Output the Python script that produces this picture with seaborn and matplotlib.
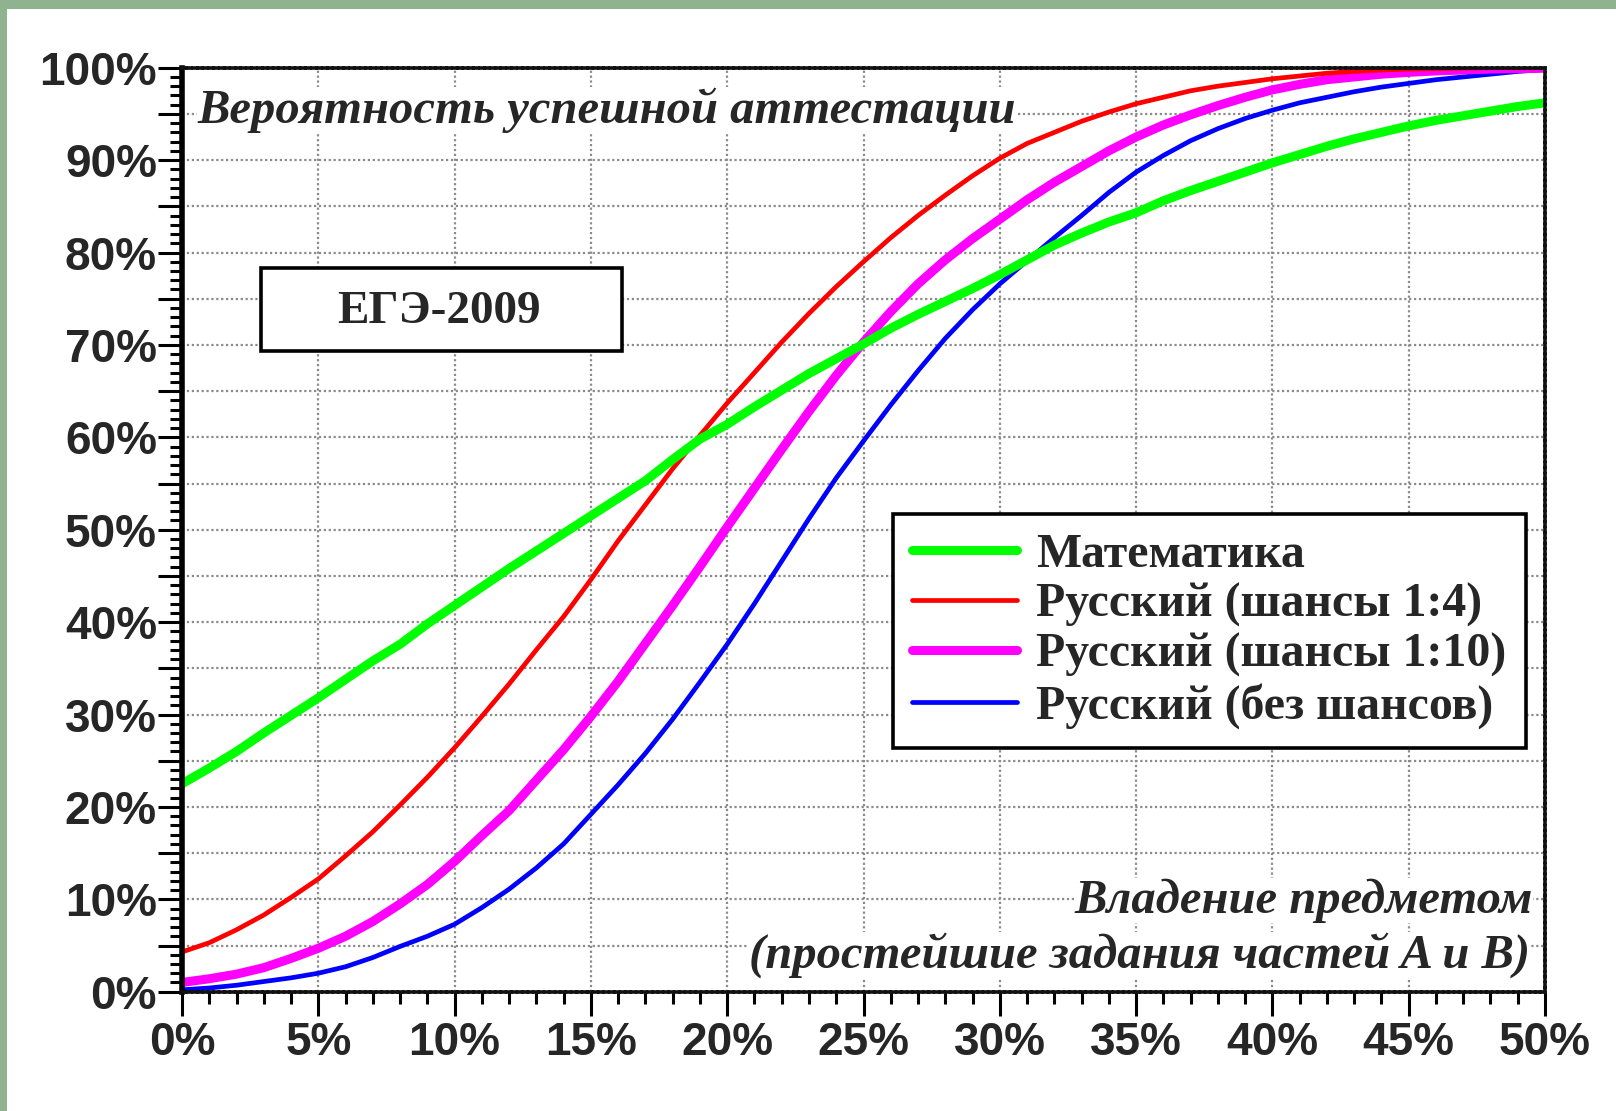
import matplotlib
matplotlib.use("Agg")
import matplotlib.pyplot as plt
import seaborn as sns
import numpy as np
import pandas as pd
from matplotlib.patches import Rectangle
from matplotlib.ticker import MultipleLocator, FuncFormatter
from matplotlib.lines import Line2D

# ---------------- data (percent) ----------------
mastery = list(range(0, 51))  # Владение предметом, %

math_vals = [22.5, 24.2, 26.0, 28.0, 29.9, 31.8, 33.8, 35.8, 37.6, 39.8,
             41.8, 43.8, 45.8, 47.7, 49.6, 51.5, 53.4, 55.3, 57.6, 59.8,
             61.4, 63.3, 65.1, 66.9, 68.5, 70.1, 71.8, 73.3, 74.7, 76.1,
             77.6, 79.2, 80.8, 82.1, 83.3, 84.3, 85.6, 86.7, 87.7, 88.7,
             89.7, 90.6, 91.5, 92.3, 93.0, 93.7, 94.3, 94.8, 95.3, 95.8, 96.2]

rus_4_vals = [4.3, 5.3, 6.7, 8.3, 10.2, 12.2, 14.7, 17.3, 20.2, 23.2,
              26.4, 29.8, 33.3, 37.0, 40.6, 44.6, 48.8, 52.7, 56.6, 60.2,
              63.7, 67.0, 70.3, 73.4, 76.3, 79.0, 81.6, 84.0, 86.2, 88.3,
              90.2, 91.8, 93.0, 94.2, 95.2, 96.1, 96.8, 97.5, 98.0, 98.4,
              98.8, 99.1, 99.4, 99.6, 99.75, 99.85, 99.9, 99.95, 100.0, 100.0, 100.0]

rus_10_vals = [1.0, 1.4, 1.9, 2.6, 3.6, 4.7, 6.0, 7.6, 9.5, 11.6,
               14.1, 16.9, 19.6, 22.9, 26.2, 29.8, 33.6, 37.7, 41.8, 46.0,
               50.3, 54.5, 58.7, 62.8, 66.7, 70.3, 73.6, 76.6, 79.2, 81.5,
               83.6, 85.7, 87.6, 89.3, 91.0, 92.5, 93.8, 94.9, 95.9, 96.8,
               97.6, 98.2, 98.7, 99.0, 99.3, 99.5, 99.65, 99.75, 99.85, 99.9, 99.95]

rus_0_vals = [0.2, 0.4, 0.7, 1.1, 1.5, 2.0, 2.7, 3.7, 4.9, 6.0,
              7.3, 9.1, 11.1, 13.4, 16.0, 19.2, 22.4, 25.8, 29.5, 33.5,
              37.6, 42.0, 46.6, 51.2, 55.6, 59.6, 63.5, 67.2, 70.7, 73.8,
              76.6, 79.1, 81.6, 84.0, 86.5, 88.7, 90.5, 92.1, 93.4, 94.5,
              95.4, 96.2, 96.8, 97.4, 97.9, 98.3, 98.7, 99.0, 99.3, 99.6, 99.8]

series_names = ["Математика", "Русский (шансы 1:4)",
                "Русский (шансы 1:10)", "Русский (без шансов)"]
series_vals = [math_vals, rus_4_vals, rus_10_vals, rus_0_vals]
series_colors = ["#00ff00", "#ff0000", "#ff00ff", "#0000ff"]
series_widths = [6.5, 3.4, 6.5, 3.4]

title_text = "Вероятность успешной аттестации"
xlabel_line1 = "Владение предметом"
xlabel_line2 = "(простейшие задания частей A и B)"
box_text = "ЕГЭ-2009"

# ---------------- style ----------------
sns.set_style("white")
plt.rcParams["font.family"] = ["Liberation Sans", "DejaVu Sans"]

W, H = 1616, 1111
fig = plt.figure(figsize=(W / 100, H / 100), dpi=100)
fig.patch.set_facecolor("#8fb38f")
fig.add_artist(Rectangle((7 / W, 0), 1 - 7 / W, (H - 9) / H,
                         transform=fig.transFigure, facecolor="white",
                         edgecolor="none", zorder=0))

x0, x1 = 182, 1545
yb, yt = 991.7, 67.7
ax = fig.add_axes([x0 / W, (H - yb) / H, (x1 - x0) / W, (yb - yt) / H])
ax.set_facecolor("white")

df = pd.DataFrame({"x": mastery * 4,
                   "y": sum(series_vals, []),
                   "series": sum([[n] * len(mastery) for n in series_names], [])})

# draw order: blue, magenta, red, green (green on top)
handles = {}
for idx in [3, 2, 1, 0]:
    name = series_names[idx]
    sub = df[df["series"] == name]
    sns.lineplot(data=sub, x="x", y="y", color=series_colors[idx],
                 linewidth=series_widths[idx], ax=ax, legend=False,
                 zorder=3 + (3 - idx))
    handles[name] = Line2D([0], [0], color=series_colors[idx],
                           linewidth=series_widths[idx])

ax.set_xlim(0, 50)
ax.set_ylim(0, 100)
ax.set_xlabel("")
ax.set_ylabel("")

ax.xaxis.set_major_locator(MultipleLocator(5))
ax.xaxis.set_minor_locator(MultipleLocator(1))
ax.yaxis.set_major_locator(MultipleLocator(5))
ax.yaxis.set_minor_locator(MultipleLocator(1))
ax.xaxis.set_major_formatter(FuncFormatter(lambda v, p: f"{int(round(v))}%"))
ax.yaxis.set_major_formatter(FuncFormatter(
    lambda v, p: f"{int(round(v))}%" if int(round(v)) % 10 == 0 else ""))

ax.tick_params(axis="both", which="both", left=True, bottom=True,
               top=False, right=False)
ax.tick_params(axis="both", which="major", direction="out", length=17,
               width=2.2, color="black", labelsize=33, pad=1)
ax.tick_params(axis="both", which="minor", direction="out", length=8.5,
               width=2.2, color="black")
ax.tick_params(axis="x", which="major", pad=4)
for lab in ax.get_xticklabels() + ax.get_yticklabels():
    lab.set_fontweight("bold")
    lab.set_family(["Liberation Sans", "DejaVu Sans"])

ax.grid(True, which="major", color="#8a8a8a", linestyle=(0, (1, 1.2)),
        linewidth=1.6)
ax.grid(False, which="minor")
ax.set_axisbelow(True)

ax.spines["left"].set_linewidth(4)
ax.spines["left"].set_color("black")
for s in ["top", "right", "bottom"]:
    ax.spines[s].set_linewidth(2.6)
    ax.spines[s].set_color("#111111")
    ax.spines[s].set_linestyle((0, (1, 0.5)))
for s in ax.spines.values():
    s.set_zorder(10)

serif_bi = dict(family=["Liberation Serif", "DejaVu Serif"],
                weight="bold", style="italic")
white_bg = dict(facecolor="white", edgecolor="none", pad=0.5)
ax.text(0.55, 94.0, title_text, fontsize=35, ha="left", va="baseline",
        zorder=2.5, bbox=white_bg, **serif_bi)
ax.text(49.56, 8.53, xlabel_line1, fontsize=35, ha="right", va="baseline",
        zorder=2.5, bbox=white_bg, **serif_bi)
ax.text(49.45, 2.57, xlabel_line2, fontsize=35, ha="right", va="baseline",
        zorder=2.5, bbox=white_bg, **serif_bi)

# ЕГЭ box
ax.add_patch(Rectangle((2.89, 69.3), 16.13 - 2.89, 78.3 - 69.3,
                       facecolor="white", edgecolor="black", linewidth=2.6,
                       zorder=7))
ax.text(9.43, 72.4, box_text, fontsize=34, ha="center", va="baseline",
        family=["Liberation Serif", "DejaVu Serif"], weight="bold", zorder=8)

leg = ax.legend([handles[n] for n in series_names], series_names,
                loc="upper left", bbox_to_anchor=((893 - x0) / (x1 - x0),
                                                  (yb - 514) / (yb - yt)),
                borderaxespad=0, frameon=True, fancybox=False,
                framealpha=1, edgecolor="black", handlelength=2.2,
                handletextpad=0.4, labelspacing=0.12, borderpad=0.4,
                prop=dict(family=["Liberation Serif", "DejaVu Serif"],
                          weight="bold", size=34.4))
leg.get_frame().set_linewidth(2.6)
leg.set_zorder(9)

fig.savefig("out.png", dpi=100, facecolor=fig.get_facecolor())
